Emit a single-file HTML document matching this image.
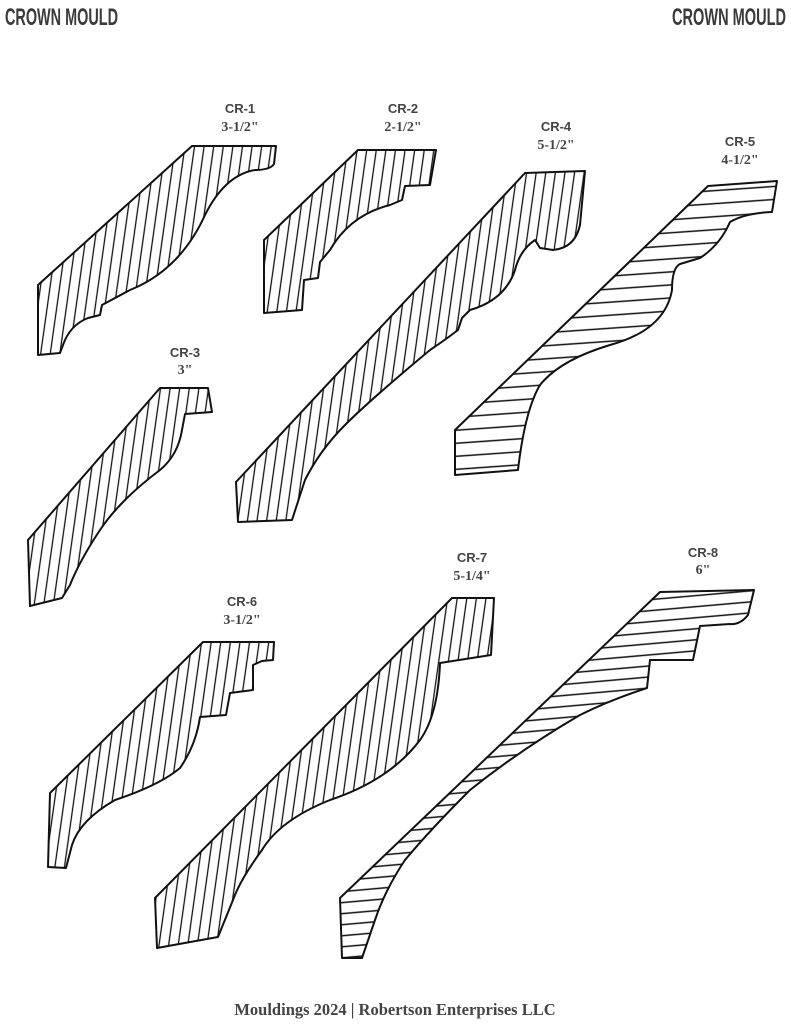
<!DOCTYPE html>
<html><head><meta charset="utf-8"><style>
body{margin:0;background:#fff;}
svg{display:block}
.h{font-family:"Liberation Sans",sans-serif;font-weight:bold;font-size:24px;fill:#3a3a3a}
.c{font-family:"Liberation Sans",sans-serif;font-weight:bold;font-size:13px;fill:#444;text-anchor:middle}
.s{font-family:"Liberation Serif",serif;font-weight:bold;font-size:14px;fill:#444;text-anchor:middle}
.f{font-family:"Liberation Serif",serif;font-weight:bold;font-size:16.5px;fill:#444;text-anchor:middle}
path.m{stroke:#111;stroke-width:2;stroke-linejoin:round}
</style></head><body>
<svg width="791" height="1024" viewBox="0 0 791 1024" xmlns="http://www.w3.org/2000/svg">
<defs>
<pattern id="v" width="9.5" height="20" patternUnits="userSpaceOnUse" patternTransform="rotate(8)"><line x1="4" y1="0" x2="4" y2="20" stroke="#111" stroke-width="1.3"/></pattern>
<pattern id="hz" width="20" height="13" patternUnits="userSpaceOnUse" patternTransform="rotate(-4)"><line x1="0" y1="6" x2="20" y2="6" stroke="#111" stroke-width="1.6"/></pattern>
<pattern id="hz8" width="20" height="11" patternUnits="userSpaceOnUse" patternTransform="rotate(-5)"><line x1="0" y1="5" x2="20" y2="5" stroke="#111" stroke-width="1.6"/></pattern>
</defs>
<text class="h" x="5" y="25" textLength="113" lengthAdjust="spacingAndGlyphs">CROWN MOULD</text>
<text class="h" x="672" y="25" textLength="114" lengthAdjust="spacingAndGlyphs">CROWN MOULD</text>

<text class="c" x="240" y="113">CR-1</text><text class="s" x="240" y="131">3-1/2"</text>
<text class="c" x="403" y="113">CR-2</text><text class="s" x="403" y="131">2-1/2"</text>
<text class="c" x="556" y="131">CR-4</text><text class="s" x="556" y="149">5-1/2"</text>
<text class="c" x="740" y="146">CR-5</text><text class="s" x="740" y="164">4-1/2"</text>
<text class="c" x="185" y="357">CR-3</text><text class="s" x="185" y="374">3"</text>
<text class="c" x="242" y="606">CR-6</text><text class="s" x="242" y="624">3-1/2"</text>
<text class="c" x="472" y="562">CR-7</text><text class="s" x="472" y="580">5-1/4"</text>
<text class="c" x="703" y="557">CR-8</text><text class="s" x="703" y="574">6"</text>

<path class="m" fill="url(#v)" d="M38,285 L192,146 L276,146 L274,164 Q270,170 255,170 Q225,175 205,215 Q180,270 130,290 L102,305 L100,315 L88,318 Q70,325 63,345 L60,353 L38,355 Z"/>
<path class="m" fill="url(#v)" d="M264,240 L358,150 L436,150 L430,185 L405,186 L402,200 L390,205 Q350,215 330,250 L320,262 L318,278 L304,280 L302,310 L264,313 Z"/>
<path class="m" fill="url(#v)" d="M236,482 L525,173 L585,171 L580,225 Q575,248 553,250 L540,248 L535,240 Q520,250 515,270 Q505,300 470,310 L462,318 L458,330 Q445,340 430,350 Q370,400 345,425 Q320,450 305,480 L292,520 L238,522 Z"/>
<path class="m" fill="url(#hz)" d="M455,430 L708,186 L777,181 L772,212 Q745,213 730,222 Q720,245 700,258 L680,264 Q672,268 672,290 Q665,330 610,345 Q560,360 540,385 Q525,410 518,470 L455,475 Z"/>
<path class="m" fill="url(#v)" d="M28,540 L160,388 L208,388 L212,412 L185,414 L182,430 Q178,455 160,470 Q120,500 100,530 Q80,560 70,585 L62,598 L30,606 Z"/>
<path class="m" fill="url(#v)" d="M50,793 L203,642 L274,642 L273,660 L262,661 L253,665 L253,690 L230,693 L226,715 L200,717 Q196,745 180,768 Q160,785 115,800 Q80,820 72,845 L66,868 L48,867 Z"/>
<path class="m" fill="url(#v)" d="M155,898 L452,598 L494,598 L491,655 L440,663 Q438,715 420,740 Q390,780 330,800 Q280,820 262,850 Q240,880 233,900 L218,937 L157,948 Z"/>
<path class="m" fill="url(#hz8)" d="M340,898 L660,592 L754,590 L748,615 Q740,625 730,624 L700,626 L693,660 L650,660 L647,688 Q610,700 580,715 Q520,750 470,790 Q430,830 405,860 Q385,890 375,920 L362,958 L342,958 Z"/>

<text class="f" x="395" y="1015">Mouldings 2024 | Robertson Enterprises LLC</text>
</svg>
</body></html>
